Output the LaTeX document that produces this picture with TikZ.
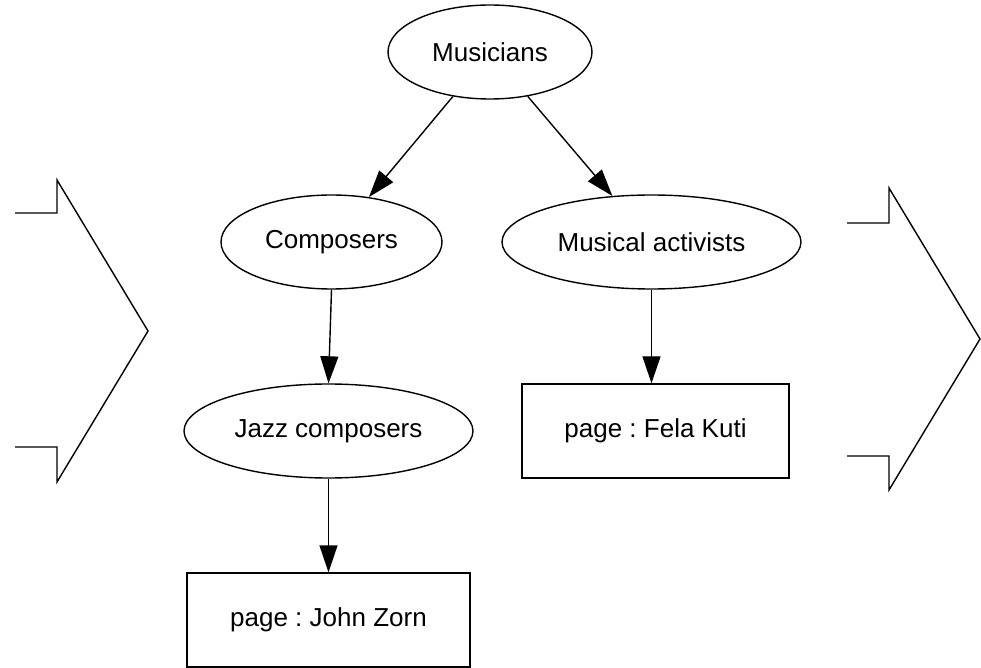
\documentclass[tikz,border=0pt]{standalone}
\usepackage{fontspec}
\setmainfont{Liberation Sans}
\usetikzlibrary{shapes.geometric}
\usetikzlibrary{arrows.meta}
\tikzset{>={Triangle[width=9pt,length=13.5pt]}}
\frenchspacing

\begin{document}
\begin{tikzpicture}[x=0.5pt, y=-0.5pt, line width=0.7pt, font=\fontsize{13}{15}\selectfont, catnode/.style={ellipse, draw=black, inner sep=0pt, minimum height=47pt}, pagenode/.style={rectangle, draw=black, inner sep=0pt, minimum height=47pt}]

    \useasboundingbox (0,0) rectangle (981,668);

    %Nodes
    \node[catnode, minimum width=102pt](musicians) at (490,52){Musicians};
    \node[catnode, minimum width=110.5pt](composers) at (331.5,242){Composers};
    \node[catnode, minimum width=149.5pt](activists) at (651.5,242){Musical activists};
    \node[catnode, minimum width=144.5pt](jazz) at (328.5,431){Jazz composers};
    \node[pagenode, minimum width=133.5pt](fela) at (655.5,431){page : Fela Kuti};
    \node[pagenode, minimum width=141.5pt](zorn) at (328.5,620){page : John Zorn};

    %Side shapes
    \draw (15,213) -- (57,213) -- (57,180) -- (148,331) -- (57,482) -- (57,447) -- (15,447);
    \draw (847,223) -- (889,223) -- (889,188) -- (980,339) -- (889,490) -- (889,456) -- (847,456);

    %Lines
    \draw[->] (musicians) -- (composers);
    \draw[->] (musicians) -- (activists);
    \draw[->] (composers.south) -- (jazz.north);
    \draw[->] (activists.south) -- (activists.south |- fela.north);
    \draw[->] (jazz.south) -- (zorn.north);

\end{tikzpicture}
\end{document}
